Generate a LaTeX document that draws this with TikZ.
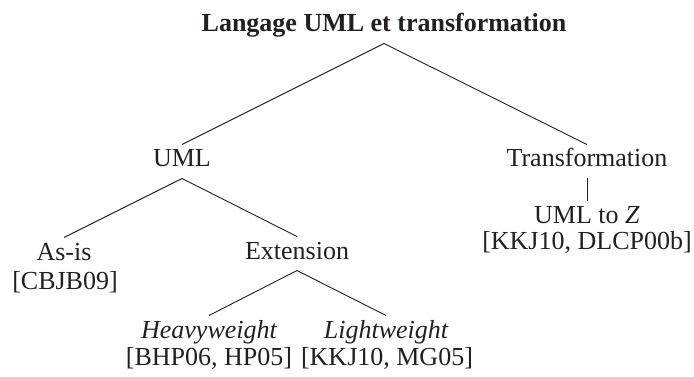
\documentclass[tikz,border=0pt]{standalone}
\usepackage{fontspec}
\setmainfont{Liberation Serif}
\definecolor{ink}{HTML}{231F20}
\begin{document}
\begin{tikzpicture}[x=1pt,y=-1pt,
  every node/.style={text=ink},
  term/.style={font=\fontsize{26}{30}\selectfont, anchor=base,
    text height=18pt, text depth=7pt, inner xsep=0pt, inner ysep=4.5pt, outer sep=0pt},
  cite/.style={font=\fontsize{26}{30}\selectfont, anchor=base, inner sep=0pt},
  branch/.style={draw=ink, line width=0.9pt}]
\useasboundingbox (0,0) rectangle (694,377);

% root
\node[term, font=\fontsize{26}{30}\selectfont\bfseries] (root) at (384,32) {Langage UML et transformation};

% first level
\node[term] (uml) at (182,167) {UML};
\node[term] (tr)  at (587,167) {Transformation};

% under UML
\node[term] (asis) at (64,260) {As-is};
\node[cite] (casis) at (65,289) {[CBJB09]};
\node[term] (ext) at (297,259) {Extension};

% under Extension
\node[term] (hw) at (209,338) {\itshape Heavyweight};
\node[term] (lw) at (386,338) {\itshape Lightweight};
\node[cite] (chw) at (209,365) {[BHP06, HP05]};
\node[cite] (clw) at (387,365) {[KKJ10, MG05]};

% under Transformation
\node[term] (uz) at (587,224) {UML to \textit{Z}};
\node[cite] (cuz) at (587,250) {[KKJ10, DLCP00b]};

% branches
\draw[branch] (root.south) -- (uml.north);
\draw[branch] (root.south) -- (tr.north);
\draw[branch] (uml.south) -- (asis.north);
\draw[branch] (uml.south) -- (ext.north);
\draw[branch] (ext.south) -- (hw.north);
\draw[branch] (ext.south) -- (lw.north);
\draw[branch] (tr.south) -- (uz.north);
\end{tikzpicture}
\end{document}
